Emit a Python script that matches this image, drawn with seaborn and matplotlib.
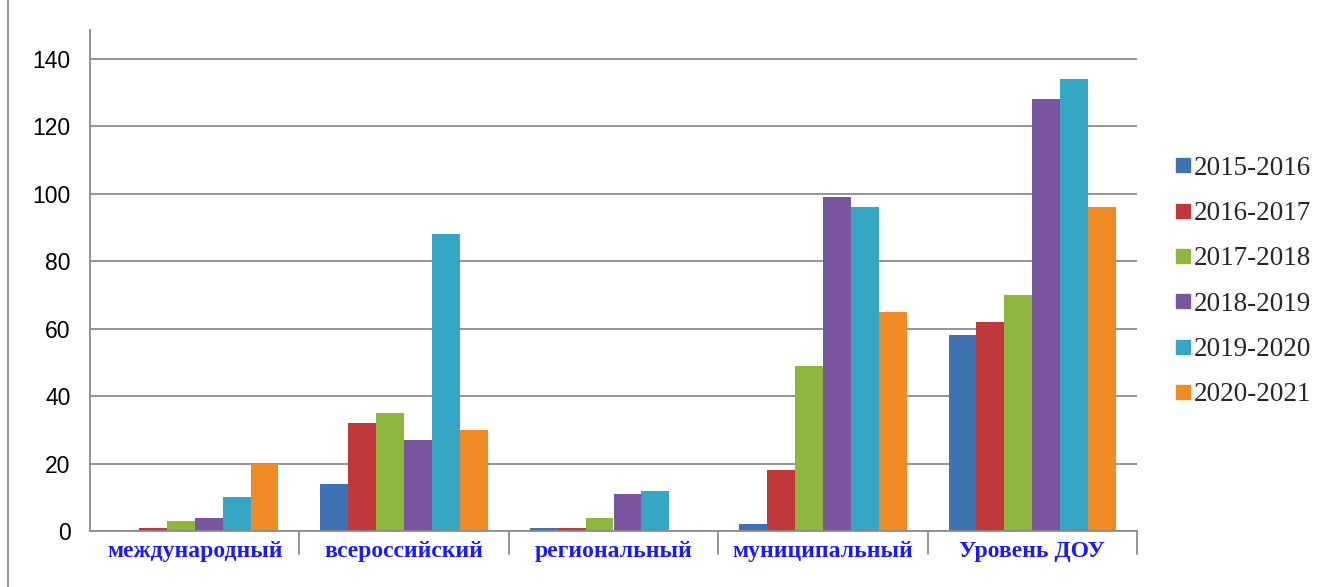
import matplotlib
matplotlib.use("Agg")
import matplotlib.pyplot as plt
import seaborn as sns
import pandas as pd
from matplotlib.lines import Line2D

categories = ["международный", "всероссийский", "региональный", "муниципальный", "Уровень ДОУ"]
years = ["2015-2016", "2016-2017", "2017-2018", "2018-2019", "2019-2020", "2020-2021"]
v2015 = [0, 14, 1, 2, 58]
v2016 = [1, 32, 1, 18, 62]
v2017 = [3, 35, 4, 49, 70]
v2018 = [4, 27, 11, 99, 128]
v2019 = [10, 88, 12, 96, 134]
v2020 = [20, 30, 0, 65, 96]
colors = ["#3f72b3", "#c0393a", "#8fb73e", "#7a55a0", "#35a6c4", "#f08a24"]

series = [v2015, v2016, v2017, v2018, v2019, v2020]
rows = []
for y, vals in zip(years, series):
    for c, v in zip(categories, vals):
        rows.append({"cat": c, "year": y, "val": v})
df = pd.DataFrame(rows)

sns.set_theme(style="white")
plt.rcParams['font.family'] = ['DejaVu Sans']
fig = plt.figure(figsize=(13.28, 5.87), dpi=100)
ax = fig.add_axes([90/1328, 1 - 531/587, (1137-90)/1328, (531-30)/587])

sns.barplot(data=df, x="cat", y="val", hue="year", order=categories, hue_order=years,
            palette=colors, width=0.8, saturation=1, ax=ax, legend=True,
            edgecolor="none")

ax.set_ylim(0, 148.6)
ax.set_xlim(-0.5, 4.5)
ax.set_yticks(range(0, 141, 20))
ax.yaxis.grid(True, color="#8c8c8c", linewidth=1.3)
ax.set_axisbelow(True)
for s in ["top", "right"]:
    ax.spines[s].set_visible(False)
for s in ["left", "bottom"]:
    ax.spines[s].set_color("#8c8c8c")
    ax.spines[s].set_linewidth(1.3)
ax.set_xlabel("")
ax.set_ylabel("")
ax.tick_params(axis="y", labelsize=16.5, colors="black", length=0, pad=14)
for lbl in ax.get_yticklabels():
    lbl.set_fontfamily("Liberation Sans")
ax.set_xticks(range(5))
ax.set_xticklabels(categories, fontsize=17, fontweight="bold", color="#1a1aff",
                   fontfamily="Liberation Serif")
ax.tick_params(axis="x", length=0, pad=7)
for xb in [0.5, 1.5, 2.5, 3.5, 4.5]:
    ax.plot([xb, xb], [0, -0.045], transform=ax.get_xaxis_transform(),
            color="#8c8c8c", lw=1.3, clip_on=False)

handles = [Line2D([0], [0], marker="s", linestyle="none", markersize=10,
                  markerfacecolor=c, markeredgecolor=c) for c in colors]
ax.legend(handles, years, loc="upper left", bbox_to_anchor=(1163/1328, 1 - 145/587),
          bbox_transform=fig.transFigure, frameon=False,
          prop={"family": "Liberation Serif", "size": 19.5}, handletextpad=0.05,
          handlelength=0.7, labelspacing=0.75, borderaxespad=0)

fig.add_artist(Line2D([8/1328, 8/1328], [0, 1], transform=fig.transFigure,
                      color="#8c8c8c", lw=1.3))

fig.savefig("out.png", dpi=100)
